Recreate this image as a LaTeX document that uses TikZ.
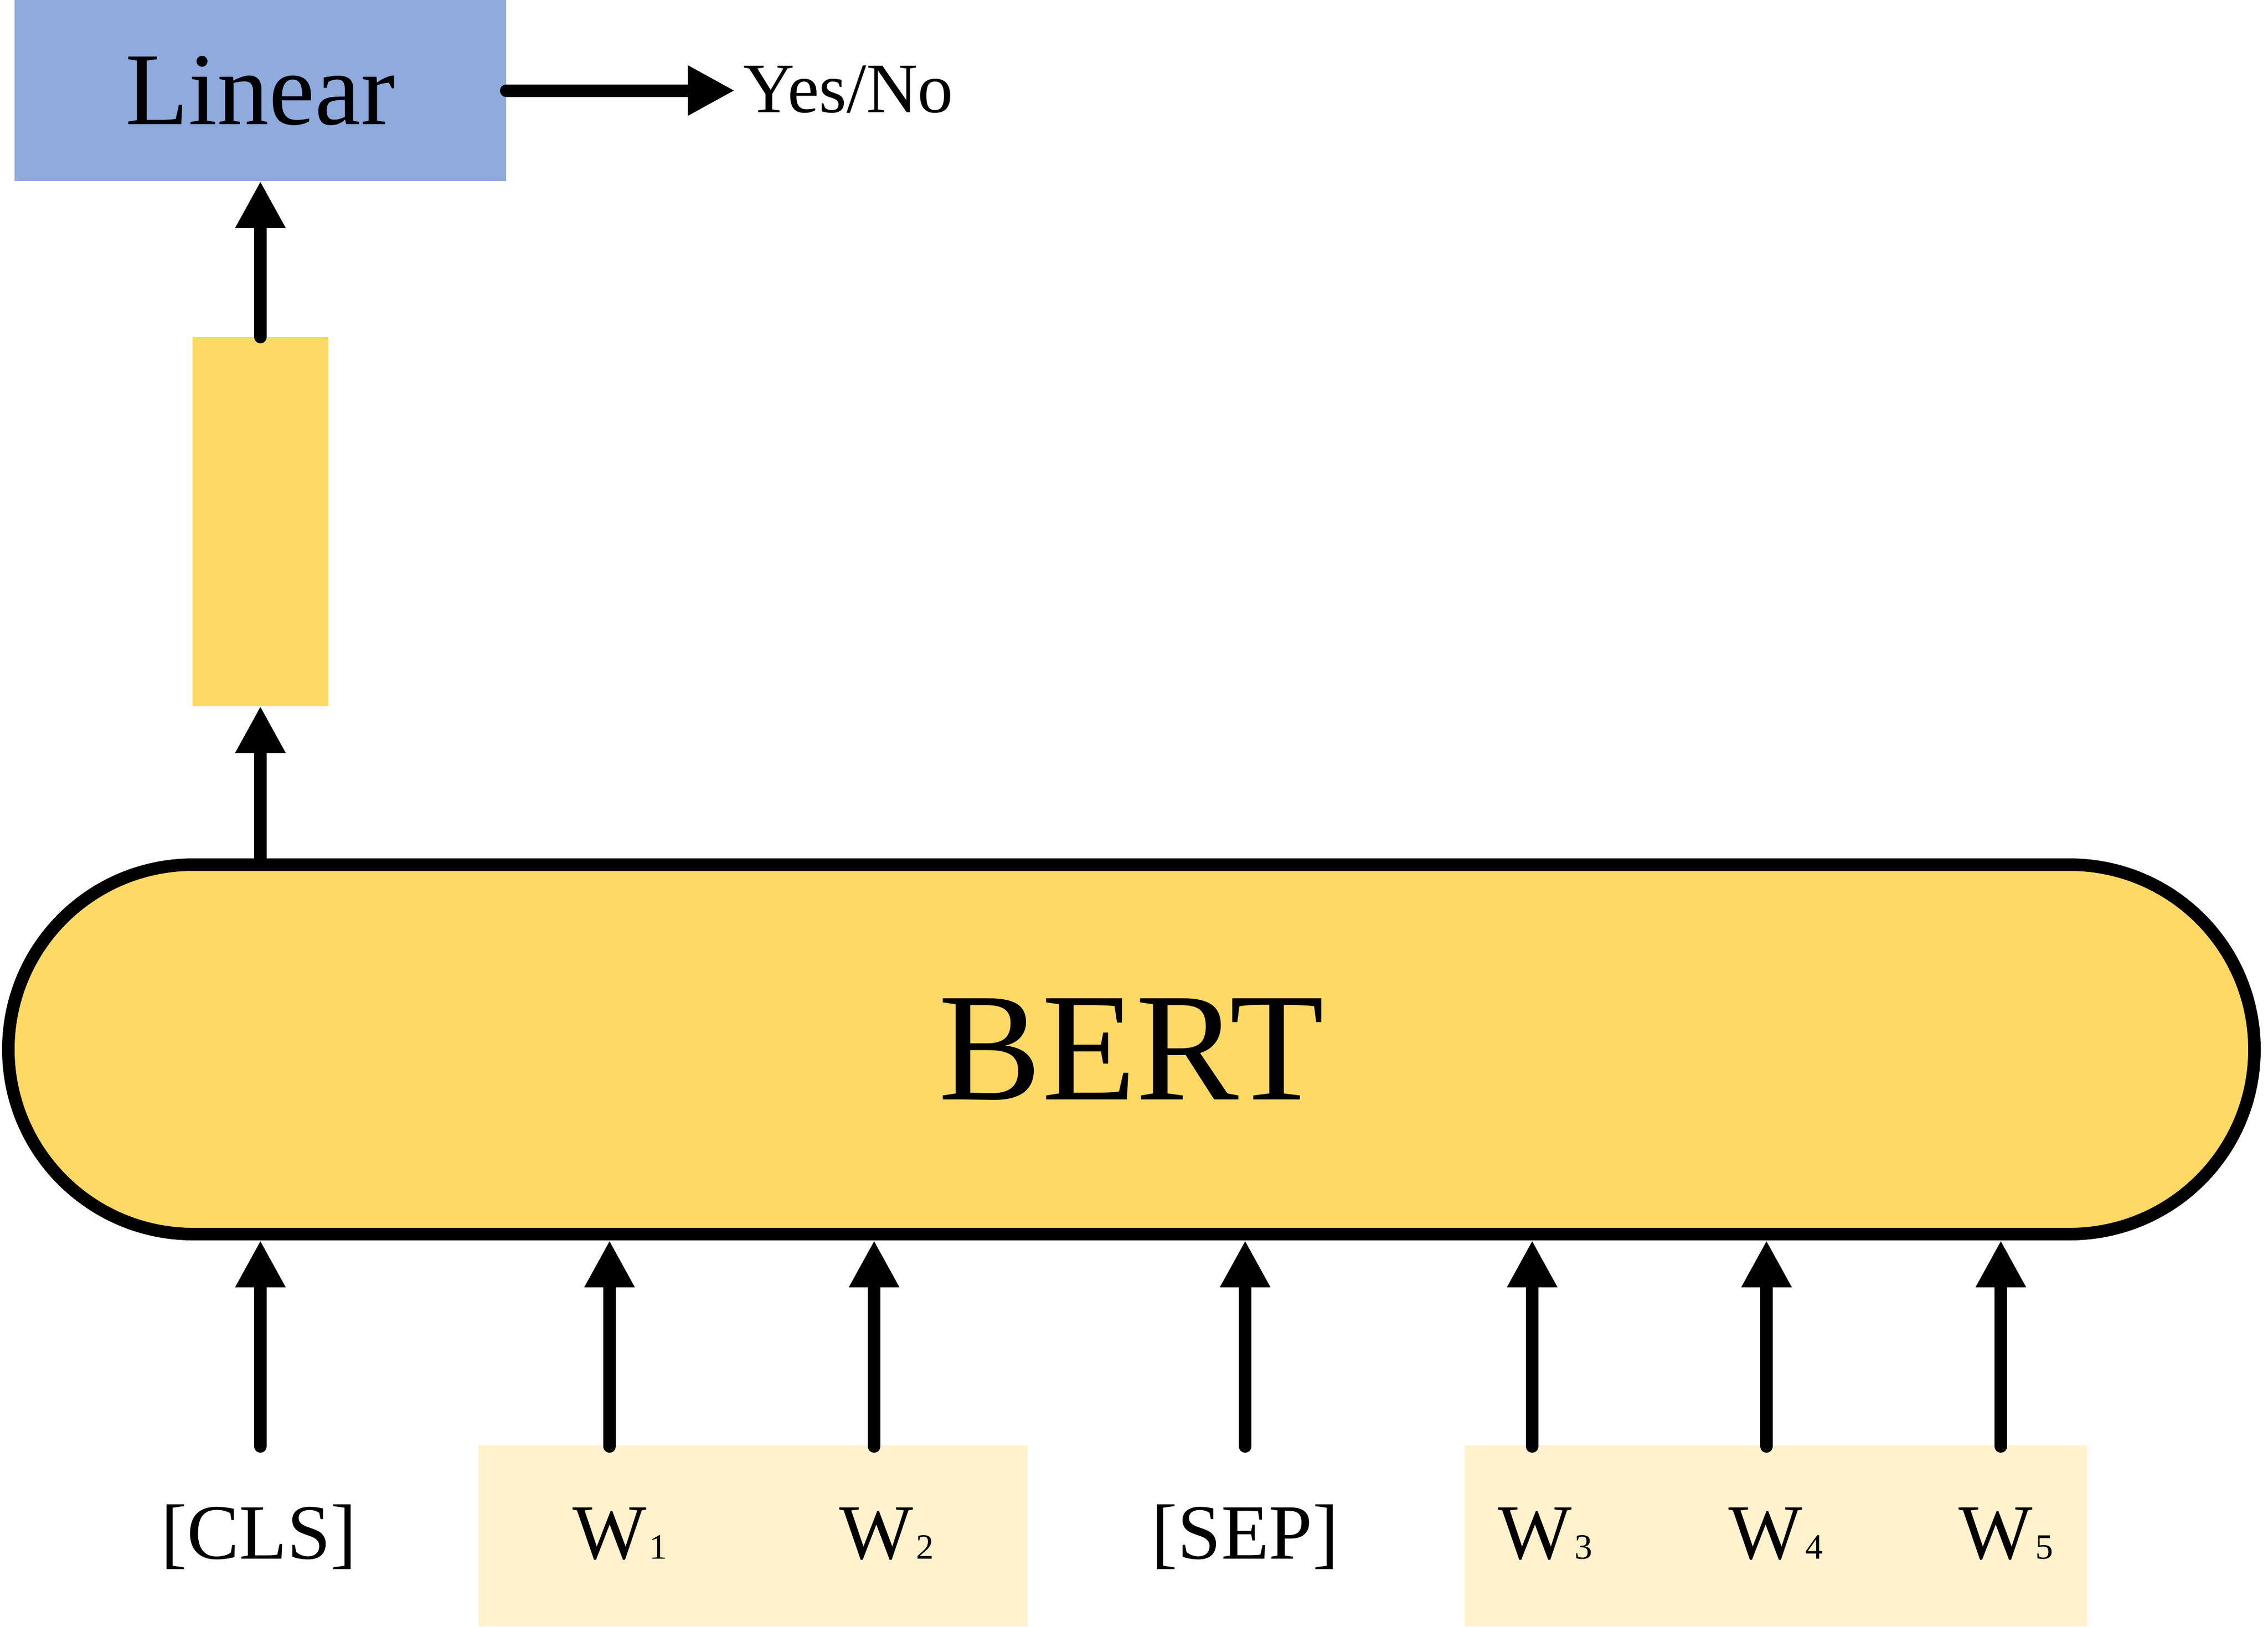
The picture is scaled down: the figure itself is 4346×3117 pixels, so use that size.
\documentclass[tikz,border=0pt]{standalone}
\usepackage{fontspec}
\setmainfont{Liberation Serif}
\usetikzlibrary{arrows.meta}
\definecolor{linblue}{HTML}{8FAADC}
\definecolor{gold}{HTML}{FFD966}
\definecolor{pale}{HTML}{FFF2CC}
\newcommand{\wsub}[1]{W\kern1.5pt{\fontsize{17pt}{20pt}\selectfont #1}}
\begin{document}
\begin{tikzpicture}[x=0.25pt,y=-0.25pt,
  box/.style={rectangle, inner sep=0pt, outer sep=0pt},
  arr/.style={line width=6pt, line cap=round, -{Triangle[length=22.5pt,width=22.5pt]}},
  lbl/.style={inner sep=0pt, anchor=base, font=\fontsize{37.5pt}{45pt}\selectfont}]
\useasboundingbox (0,0) rectangle (4346,3117);
% pale groups
\node[box, fill=pale, minimum width=263pt, minimum height=86.75pt] (g1) at (1443,2943.5) {};
\node[box, fill=pale, minimum width=298pt, minimum height=86.75pt] (g2) at (3403,2943.5) {};
% main blocks
\node[box, fill=linblue, minimum width=235.5pt, minimum height=86.75pt, font=\fontsize{49.5pt}{60pt}\selectfont] (lin) at (499,173.5) {Linear};
\node[box, fill=gold, minimum width=65pt, minimum height=176.75pt] (yb) at (499,999.5) {};
\node[draw, fill=gold, line width=6pt, rounded corners=88.5pt, minimum width=1076pt, minimum height=177pt, inner sep=0pt, font=\fontsize{74pt}{88pt}\selectfont] (bert) at (2168,2011) {BERT};
\node[inner sep=0pt, anchor=base west, font=\fontsize{34pt}{40pt}\selectfont] (yes) at (1424,215) {Yes/No};
% labels
\node[lbl] (cls) at (496,2987) {[CLS]};
\node[lbl] (w1) at (1188,2987) {\wsub{1}};
\node[lbl] (w2) at (1699,2987) {\wsub{2}};
\node[lbl] (sep) at (2386,2987) {[SEP]};
\node[lbl] (w3) at (2961,2987) {\wsub{3}};
\node[lbl] (w4) at (3403,2987) {\wsub{4}};
\node[lbl] (w5) at (3844,2987) {\wsub{5}};
% arrow start points
\coordinate (c0) at (499,2772);
\coordinate (c1) at (1168,2772);
\coordinate (c2) at (1675,2772);
\coordinate (c3) at (2386,2772);
\coordinate (c4) at (2936,2772);
\coordinate (c5) at (3385,2772);
\coordinate (c6) at (3834,2772);
\foreach \c in {c0,c1,c2,c3,c4,c5,c6}
  \draw[arr] (\c) -- (\c |- bert.south);
\draw[arr] (bert.north -| yb.south) -- (yb.south);
\draw[arr] (yb.north) -- (lin.south);
\draw[arr] (lin.east) -- ([xshift=-4pt]lin.east -| yes.west);
\end{tikzpicture}
\end{document}
